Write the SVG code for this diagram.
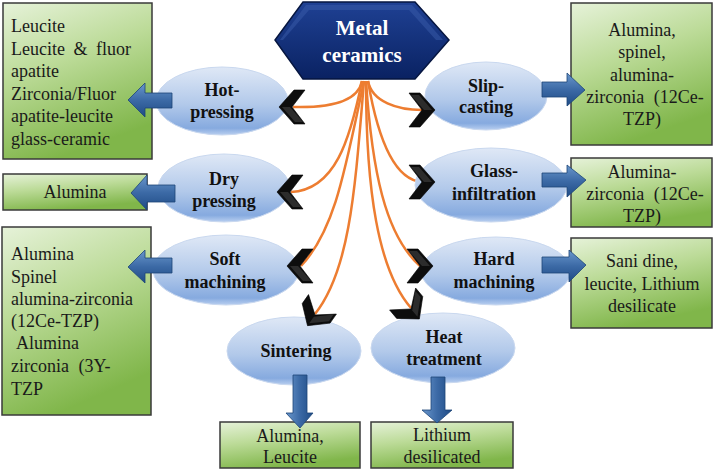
<svg xmlns="http://www.w3.org/2000/svg" width="714" height="470" viewBox="0 0 714 470">
<defs>
<linearGradient id="gG" x1="0" y1="0" x2="0.35" y2="1">
<stop offset="0" stop-color="#e6f2d9"/>
<stop offset="0.45" stop-color="#bcdb98"/>
<stop offset="1" stop-color="#80b64a"/>
</linearGradient>
<linearGradient id="eG" x1="0" y1="0" x2="0" y2="1">
<stop offset="0" stop-color="#dfe8f6"/>
<stop offset="0.55" stop-color="#b2c9ea"/>
<stop offset="0.9" stop-color="#86aadf"/>
<stop offset="1" stop-color="#b9cff0"/>
</linearGradient>
<linearGradient id="hG" x1="0" y1="0" x2="0" y2="1">
<stop offset="0" stop-color="#1f4194"/>
<stop offset="1" stop-color="#0a2262"/>
</linearGradient>
<linearGradient id="aG" x1="0" y1="0" x2="0" y2="1">
<stop offset="0" stop-color="#6a97cc"/>
<stop offset="0.5" stop-color="#3c6aa6"/>
<stop offset="1" stop-color="#1f4b85"/>
</linearGradient>
<linearGradient id="aGv" x1="0" y1="0" x2="1" y2="0">
<stop offset="0" stop-color="#6a97cc"/>
<stop offset="0.5" stop-color="#3c6aa6"/>
<stop offset="1" stop-color="#1f4b85"/>
</linearGradient>
<g id="chev">
<polygon points="-13,-17 -2,-17 13,0 -2,17 -13,17 0,0" fill="#0d0d0d" stroke="#000" stroke-width="0.6"/>
<polygon points="-11,-15 -3,-15 10,0 2,0" fill="#3a3a3a" opacity="0.7"/>
</g>
</defs>
<style>
.box{fill:url(#gG);stroke:#3a3a3a;stroke-width:1.5}
.ell{fill:url(#eG);stroke:#c9d8ef;stroke-width:1}
.lbl{font-family:"Liberation Serif","Times New Roman",serif;font-weight:bold;font-size:18px;fill:#111;text-anchor:middle}
.bt{font-family:"Liberation Serif","Times New Roman",serif;font-size:18px;fill:#1a1a1a}
.ct{text-anchor:middle}
.ttl{font-family:"Liberation Serif","Times New Roman",serif;font-weight:bold;font-size:21px;fill:#fff;text-anchor:middle}
.con{fill:none;stroke:#ed7d31;stroke-width:2.5}
.arr{fill:url(#aG);stroke:#1c4577;stroke-width:0.8}
.arv{fill:url(#aGv);stroke:#1c4577;stroke-width:0.8}
</style>
<rect width="714" height="470" fill="#fff"/>

<g id="connectors">
<path class="con" d="M362,81 C358,102 330,108 293,107"/>
<path class="con" d="M368,81 C372,102 398,110 422,110"/>
<path class="con" d="M362,81 C350,140 335,190 291,192"/>
<path class="con" d="M368,81 C378,140 395,180 422,182"/>
<path class="con" d="M364,81 C345,170 335,230 301,266"/>
<path class="con" d="M366,81 C372,170 385,235 420,266"/>
<path class="con" d="M364,81 C355,190 350,270 315,314"/>
<path class="con" d="M366,81 C366,190 378,270 411,308"/>
</g>

<g id="metal">
<polygon points="303,2 415,2 449,40 415,79 303,79 275,40" fill="url(#hG)" stroke="#061640" stroke-width="1.5"/>
<polygon points="306,5 412,5 443,40 436,40 409,10 309,10 283,40 280,40" fill="#3a5caa" opacity="0.5"/>
<text class="ttl" x="362" y="35">Metal</text>
<text class="ttl" x="362" y="62">ceramics</text>
</g>

<g id="box-hot">
<rect class="box" x="3" y="3" width="149" height="156"/>
<text class="bt" x="11" y="32">Leucite</text>
<text class="bt" x="11" y="55" word-spacing="4">Leucite &amp; fluor</text>
<text class="bt" x="11" y="77">apatite</text>
<text class="bt" x="11" y="100">Zirconia/Fluor</text>
<text class="bt" x="11" y="122">apatite-leucite</text>
<text class="bt" x="11" y="145">glass-ceramic</text>
</g>
<g id="box-dry">
<rect class="box" x="3" y="174" width="144" height="36"/>
<text class="bt ct" x="75" y="198">Alumina</text>
</g>
<g id="box-soft">
<rect class="box" x="2" y="227" width="149" height="188"/>
<text class="bt" x="11" y="260">Alumina</text>
<text class="bt" x="11" y="283">Spinel</text>
<text class="bt" x="11" y="305">alumina-zirconia</text>
<text class="bt" x="11" y="327">(12Ce-TZP)</text>
<text class="bt" x="16" y="349">Alumina</text>
<text class="bt" x="11" y="372" word-spacing="5">zirconia (3Y-</text>
<text class="bt" x="11" y="395">TZP</text>
</g>
<g id="box-sint">
<rect class="box" x="220" y="422" width="140" height="46"/>
<text class="bt ct" x="290" y="442">Alumina,</text>
<text class="bt ct" x="290" y="463">Leucite</text>
</g>
<g id="box-heat">
<rect class="box" x="371" y="422" width="142" height="46"/>
<text class="bt ct" x="442" y="441">Lithium</text>
<text class="bt ct" x="442" y="463">desilicated</text>
</g>
<g id="box-slip">
<rect class="box" x="571" y="3" width="141" height="142"/>
<text class="bt ct" x="642" y="36">Alumina,</text>
<text class="bt ct" x="642" y="58">spinel,</text>
<text class="bt ct" x="642" y="81">alumina-</text>
<text class="bt ct" x="645" y="103" word-spacing="5">zirconia (12Ce-</text>
<text class="bt ct" x="642" y="125">TZP)</text>
</g>
<g id="box-glass">
<rect class="box" x="571" y="158" width="141" height="69"/>
<text class="bt ct" x="642" y="178">Alumina-</text>
<text class="bt ct" x="645" y="200" word-spacing="5">zirconia (12Ce-</text>
<text class="bt ct" x="642" y="222">TZP)</text>
</g>
<g id="box-hard">
<rect class="box" x="571" y="238" width="141" height="90"/>
<text class="bt ct" x="642" y="267">Sani dine,</text>
<text class="bt ct" x="642" y="290">leucite, Lithium</text>
<text class="bt ct" x="642" y="312">desilicate</text>
</g>

<g id="hot-pressing">
<ellipse class="ell" cx="222" cy="101" rx="66" ry="34"/>
<text class="lbl" x="222" y="96">Hot-</text>
<text class="lbl" x="222" y="118">pressing</text>
</g>
<g id="dry-pressing">
<ellipse class="ell" cx="224" cy="188" rx="66" ry="34"/>
<text class="lbl" x="224" y="185">Dry</text>
<text class="lbl" x="224" y="207">pressing</text>
</g>
<g id="soft-machining">
<ellipse class="ell" cx="226" cy="270" rx="73" ry="35"/>
<text class="lbl" x="225" y="265">Soft</text>
<text class="lbl" x="225" y="288">machining</text>
</g>
<g id="sintering">
<ellipse class="ell" cx="294" cy="351" rx="67" ry="34"/>
<text class="lbl" x="296" y="357">Sintering</text>
</g>
<g id="heat-treatment">
<ellipse class="ell" cx="443" cy="348" rx="72" ry="35"/>
<text class="lbl" x="444" y="343">Heat</text>
<text class="lbl" x="444" y="365">treatment</text>
</g>
<g id="slip-casting">
<ellipse class="ell" cx="486" cy="96" rx="61" ry="34"/>
<text class="lbl" x="486" y="92">Slip-</text>
<text class="lbl" x="486" y="113">casting</text>
</g>
<g id="glass-infiltration">
<ellipse class="ell" cx="491" cy="185" rx="76" ry="37"/>
<text class="lbl" x="494" y="177">Glass-</text>
<text class="lbl" x="494" y="200">infiltration</text>
</g>
<g id="hard-machining">
<ellipse class="ell" cx="496" cy="271" rx="75" ry="34"/>
<text class="lbl" x="494" y="265">Hard</text>
<text class="lbl" x="494" y="288">machining</text>
</g>

<g id="block-arrows">
<polygon class="arr" points="172,93 145,93 145,83 128,100 145,117 145,108 172,108"/>
<polygon class="arr" points="175,185 147,185 147,175 131,193 147,210 147,202 175,202"/>
<polygon class="arr" points="172,258 145,258 145,250 128,267 145,283 145,273 172,273"/>
<polygon class="arr" points="542,82 567,82 567,73 585,90 567,106 567,97 542,97"/>
<polygon class="arr" points="542,173 567,173 567,165 586,180 567,197 567,187 542,187"/>
<polygon class="arr" points="542,257 569,257 569,250 586,265 569,282 569,273 542,273"/>
<polygon class="arv" points="293,375 307,375 307,413 313,413 300,428 286,413 293,413"/>
<polygon class="arv" points="431,377 445,377 445,410 452,410 437,423 422,410 431,410"/>
</g>

<g id="chevrons">
<use href="#chev" transform="translate(292,107) rotate(180)"/>
<use href="#chev" transform="translate(422,110)"/>
<use href="#chev" transform="translate(290,192) rotate(180)"/>
<use href="#chev" transform="translate(422,182)"/>
<use href="#chev" transform="translate(300,266) rotate(180)"/>
<use href="#chev" transform="translate(420,266)"/>
<use href="#chev" transform="translate(315,315) rotate(125)"/>
<use href="#chev" transform="translate(411,309) rotate(50)"/>
</g>
</svg>
